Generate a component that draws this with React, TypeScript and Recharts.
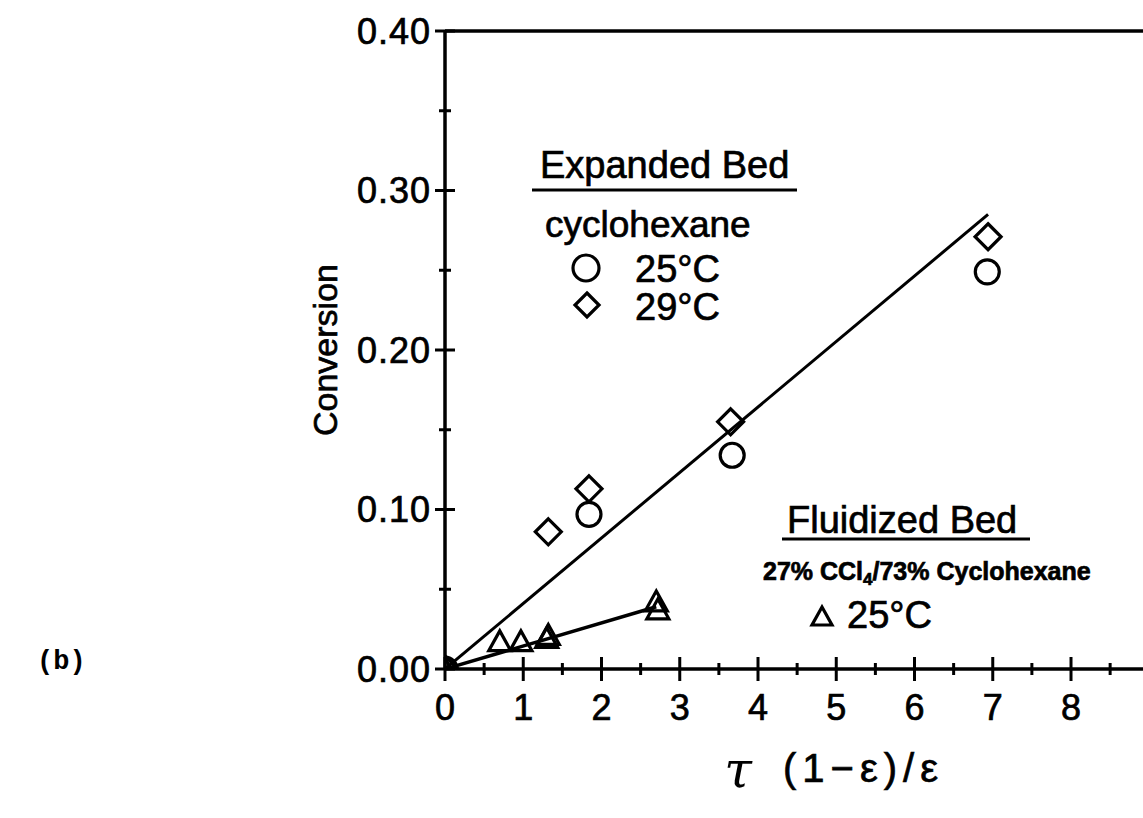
import {
  ComposedChart,
  Scatter,
  XAxis,
  YAxis,
  ReferenceLine,
} from "recharts";

// expanded bed, cyclohexane
const circles25 = [
  { x: 0, y: 0 },
  { x: 1.84, y: 0.097 },
  { x: 3.67, y: 0.134 },
  { x: 6.93, y: 0.249 },
];
const diamonds29 = [
  { x: 0, y: 0 },
  { x: 1.32, y: 0.086 },
  { x: 1.84, y: 0.113 },
  { x: 3.65, y: 0.155 },
  { x: 6.94, y: 0.271 },
];
// fluidized bed, 27% CCl4 / 73% cyclohexane
const triangles25 = [
  { x: 0, y: 0 },
  { x: 0.7, y: 0.017 },
  { x: 0.97, y: 0.017 },
  { x: 1.3, y: 0.019 },
  { x: 1.32, y: 0.021 },
  { x: 2.7, y: 0.042 },
  { x: 2.72, y: 0.037 },
];
const expandedFit = [
  { x: 0, y: 0 },
  { x: 6.94, y: 0.285 },
];
const fluidizedFit = [
  { x: 0, y: 0 },
  { x: 2.7, y: 0.039 },
];

const xTicks = [0, 0.5, 1, 1.5, 2, 2.5, 3, 3.5, 4, 4.5, 5, 5.5, 6, 6.5, 7, 7.5, 8, 8.5];
const yTicks = [0, 0.05, 0.1, 0.15, 0.2, 0.25, 0.3, 0.35, 0.4];

const FONT = "'Liberation Sans', Arial, sans-serif";
const SW = 3.2;

const XTick = (props: any) => {
  const { x, y, payload } = props;
  const major = Number.isInteger(payload.value);
  const h = major ? 12 : 6;
  return (
    <g>
      <line x1={x} x2={x} y1={y - h} y2={y + h} stroke="#000" strokeWidth={3} />
      {major && (
        <text x={x} y={y + 38} textAnchor="middle" dominantBaseline="central"
          fontFamily={FONT} fontSize={36} fill="#000" stroke="#000" strokeWidth={0.7}>
          {payload.value}
        </text>
      )}
    </g>
  );
};

const YTick = (props: any) => {
  const { x, y, payload } = props;
  const v = Math.round(payload.value * 100);
  const major = v % 10 === 0;
  const w = major ? 10 : 6;
  return (
    <g>
      <line x1={x - w} x2={x + w} y1={y} y2={y} stroke="#000" strokeWidth={3} />
      {major && (
        <text x={x - 14} y={y} textAnchor="end" dominantBaseline="central"
          fontFamily={FONT} fontSize={36} letterSpacing={1} fill="#000" stroke="#000" strokeWidth={0.7}>
          {payload.value.toFixed(2)}
        </text>
      )}
    </g>
  );
};

const CircleMark = (p: any) => (
  <circle cx={p.cx} cy={p.cy} r={12} fill="none" stroke="#000" strokeWidth={SW} />
);
const DiamondMark = (p: any) => {
  const r = 13;
  return (
    <polygon
      points={`${p.cx},${p.cy - r} ${p.cx + r},${p.cy} ${p.cx},${p.cy + r} ${p.cx - r},${p.cy}`}
      fill="none" stroke="#000" strokeWidth={SW}
    />
  );
};
const TriangleMark = (p: any) => {
  const s = 11;
  return (
    <polygon
      points={`${p.cx},${p.cy - s} ${p.cx + s},${p.cy + s * 0.8} ${p.cx - s},${p.cy + s * 0.8}`}
      fill="none" stroke="#000" strokeWidth={SW}
    />
  );
};
const NoMark = () => <g />;

const txt = { fontFamily: FONT, fill: "#000", stroke: "#000", strokeWidth: 0.7 } as const;

export default function App() {
  return (
    <div style={{ position: "absolute", left: 0, top: 0, width: 1143, height: 818, overflow: "hidden", background: "#fff" }}>
      <ComposedChart width={1143} height={818} margin={{ top: 31, right: 0, left: 345, bottom: 89 }}>
        <XAxis type="number" dataKey="x" domain={[0, 8.92]} ticks={xTicks} interval={0}
          allowDataOverflow height={60} tickSize={0} tickMargin={0} tickLine={false}
          axisLine={{ stroke: "#000", strokeWidth: 3.5 }} tick={<XTick />} />
        <YAxis type="number" dataKey="y" domain={[0, 0.4]} ticks={yTicks} interval={0}
          allowDataOverflow width={100} tickSize={0} tickMargin={0} tickLine={false}
          axisLine={{ stroke: "#000", strokeWidth: 3.5 }} tick={<YTick />} />
        <ReferenceLine y={0.4} stroke="#000" strokeWidth={3.5} />
        <Scatter data={expandedFit} shape={<NoMark />} line={{ stroke: "#000", strokeWidth: 3 }} isAnimationActive={false} />
        <Scatter data={fluidizedFit} shape={<NoMark />} line={{ stroke: "#000", strokeWidth: 3.5 }} isAnimationActive={false} />
        <Scatter data={circles25} shape={<CircleMark />} isAnimationActive={false} />
        <Scatter data={diamonds29} shape={<DiamondMark />} isAnimationActive={false} />
        <Scatter data={triangles25} shape={<TriangleMark />} isAnimationActive={false} />
      </ComposedChart>

      <svg width={1143} height={818} style={{ position: "absolute", left: 0, top: 0, pointerEvents: "none" }}>
        <text x={37} y={662} dominantBaseline="central" fontFamily="'Liberation Mono', monospace"
          fontSize={27} fontWeight="bold" fill="#000">(b)</text>
        <text x={325} y={350} transform="rotate(-90 325 350)" textAnchor="middle" dominantBaseline="central"
          fontSize={34} {...txt}>Conversion</text>

        <text x={738} y={770} textAnchor="middle" dominantBaseline="central"
          fontFamily="'DejaVu Serif', serif" fontStyle="italic" fontSize={50} fill="#000">τ</text>
        <text x={783} y={768} dominantBaseline="central" fontSize={40} letterSpacing={6} {...txt}>(1−ε)/ε</text>

        {/* expanded bed legend */}
        <text x={540} y={178} fontSize={38} {...txt}>Expanded Bed</text>
        <line x1={532} x2={797} y1={190} y2={190} stroke="#000" strokeWidth={3} />
        <text x={545} y={237} fontSize={37} {...txt}>cyclohexane</text>
        <circle cx={586} cy={268} r={13} fill="none" stroke="#000" strokeWidth={SW} />
        <text x={635} y={282} fontSize={38} {...txt}>25°C</text>
        <polygon points="587,293 599,305 587,317 575,305" fill="none" stroke="#000" strokeWidth={SW} />
        <text x={635} y={320} fontSize={38} {...txt}>29°C</text>

        {/* fluidized bed legend */}
        <text x={787} y={533} fontSize={38} {...txt}>Fluidized Bed</text>
        <line x1={782} x2={1030} y1={539} y2={539} stroke="#000" strokeWidth={3} />
        <text x={763} y={580} fontSize={25} fontWeight="bold" {...txt}>
          27% CCl<tspan fontSize={17} dy={5}>4</tspan><tspan dy={-5}>/73% Cyclohexane</tspan>
        </text>
        <polygon points="822,607 832,625 812,625" fill="none" stroke="#000" strokeWidth={SW} />
        <text x={847} y={628} fontSize={38} {...txt}>25°C</text>
      </svg>
    </div>
  );
}
